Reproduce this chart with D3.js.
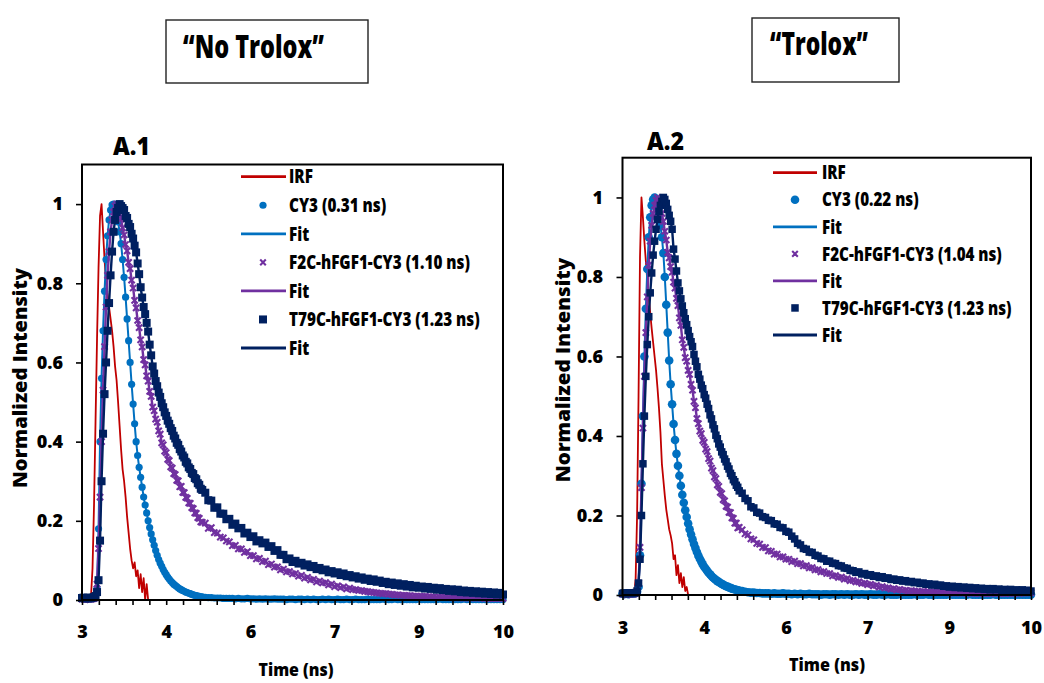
<!DOCTYPE html>
<html>
<head>
<meta charset="utf-8">
<script src="https://cdn.jsdelivr.net/npm/d3@7"></script>
<style>
  html, body { margin: 0; padding: 0; background: #fff; }
  svg { display: block; }
</style>
</head>
<body>
<svg id="fig" width="1044" height="683"></svg>
<script>
// ---------------- data ----------------
// TCSPC channel times (ns): 25 ps over the rise and fast decay, 50 ps in the tail
const timeNs = [
  3,3.025,3.05,3.075,3.1,3.125,3.15,3.175,3.2,3.225,
  3.25,3.275,3.3,3.325,3.35,3.375,3.4,3.425,3.45,3.475,
  3.5,3.525,3.55,3.575,3.6,3.625,3.65,3.675,3.7,3.725,
  3.75,3.775,3.8,3.825,3.85,3.875,3.9,3.925,3.95,3.975,
  4,4.025,4.05,4.075,4.1,4.125,4.15,4.175,4.2,4.225,
  4.25,4.275,4.3,4.325,4.35,4.375,4.4,4.425,4.45,4.475,
  4.5,4.525,4.55,4.575,4.6,4.625,4.65,4.675,4.7,4.725,
  4.75,4.775,4.8,4.825,4.85,4.875,4.9,4.925,4.95,4.975,
  5,
  5.05,5.1,5.15,5.2,5.25,5.3,5.35,5.4,5.45,5.5,
  5.55,5.6,5.65,5.7,5.75,5.8,5.85,5.9,5.95,6,
  6.05,6.1,6.15,6.2,6.25,6.3,6.35,6.4,6.45,6.5,
  6.55,6.6,6.65,6.7,6.75,6.8,6.85,6.9,6.95,7,
  7.05,7.1,7.15,7.2,7.25,7.3,7.35,7.4,7.45,7.5,
  7.55,7.6,7.65,7.7,7.75,7.8,7.85,7.9,7.95,8,
  8.05,8.1,8.15,8.2,8.25,8.3,8.35,8.4,8.45,8.5,
  8.55,8.6,8.65,8.7,8.75,8.8,8.85,8.9,8.95,9,
  9.05,9.1,9.15,9.2,9.25,9.3,9.35,9.4,9.45,9.5,
  9.55,9.6,9.65,9.7,9.75,9.8,9.85,9.9,9.95,10
];

// A.1 "No Trolox"
const irfA = [
  0,0,0,0,0,0.002,0.01,0.08,0.24,0.45,
  0.66,0.84,0.97,1.0,0.93,0.86,0.80,0.77,0.74,0.71,
  0.68,0.64,0.59,0.555,0.50,0.44,0.38,0.33,0.30,0.26,
  0.21,0.17,0.13,0.10,0.08,0.095,0.06,0.075,0.03,0.065,
  0.02,0.055,0,0.04,0
];
const cy3A = [
  0.003,0.004,0.002,0.003,0.004,0.002,0.003,0.004,0.005,0.008,
  0.03,0.18,0.40,0.56,0.68,0.78,0.86,0.92,0.96,0.985,
  0.998,1.0,0.992,0.975,0.955,0.93,0.90,0.86,0.815,0.765,
  0.71,0.655,0.60,0.545,0.495,0.445,0.40,0.365,0.335,0.31,
  0.285,0.26,0.24,0.22,0.20,0.183,0.167,0.152,0.138,0.125,
  0.113,0.102,0.093,0.085,0.077,0.07,0.064,0.058,0.053,0.048,
  0.044,0.04,0.037,0.034,0.031,0.028,0.026,0.024,0.022,0.02,
  0.019,0.017,0.016,0.014,0.013,0.012,0.011,0.01,0.009,0.008,
  0.008,
  0.007,0.006,0.006,0.005,0.005,0.005,0.004,0.004,0.004,0.004,
  0.003,0.004,0.003,0.003,0.004,0.003,0.003,0.002,0.003,0.002,
  0.003,0.002,0.002,0.003,0.002,0.002,0.002,0.001,0.002,0.002,
  0.001,0.002,0.002,0.001,0.002,0.001,0.002,0.001,0.001,0.002,
  0.001,0.002,0.001,0.001,0.002,0.001,0.001,0.002,0.001,0.001,
  0.002,0.001,0.001,0.001,0.002,0.001,0.001,0.001,0.001,0.002,
  0.001,0.001,0.001,0.002,0.001,0.001,0.001,0.001,0.001,0.001,
  0.001,0.002,0.001,0.001,0.001,0.001,0.001,0.001,0.002,0.001,
  0.001,0.001,0.001,0.001,0.001,0.001,0.002,0.001,0.001,0.001,
  0.001,0.001,0.001,0.001,0.001,0.001,0.001,0.001,0.001,0.001
];
const f2cA = [
  0.002,0.003,0.001,0.002,0.003,0.002,0.002,0.003,0.004,0.006,
  0.04,0.13,0.26,0.40,0.53,0.64,0.74,0.82,0.88,0.93,
  0.96,0.98,0.995,1.0,0.99,0.975,0.962,0.94,0.922,0.898,
  0.882,0.853,0.837,0.808,0.788,0.757,0.738,0.706,0.688,0.657,
  0.639,0.607,0.594,0.566,0.553,0.527,0.514,0.487,0.478,0.457,
  0.449,0.427,0.419,0.397,0.392,0.376,0.372,0.355,0.352,0.336,
  0.333,0.319,0.317,0.302,0.301,0.286,0.287,0.272,0.271,0.259,
  0.257,0.245,0.244,0.233,0.231,0.22,0.219,0.208,0.206,0.197,
  0.196,
  0.194,0.181,0.183,0.17,0.169,0.159,0.157,0.149,0.147,0.137,
  0.138,0.129,0.129,0.12,0.122,0.112,0.112,0.104,0.105,0.097,
  0.098,0.089,0.091,0.083,0.084,0.076,0.078,0.071,0.072,0.066,
  0.067,0.06,0.062,0.055,0.057,0.051,0.052,0.046,0.048,0.043,
  0.044,0.038,0.04,0.034,0.036,0.031,0.033,0.028,0.03,0.026,
  0.026,0.024,0.024,0.022,0.021,0.02,0.019,0.018,0.017,0.016,
  0.016,0.015,0.014,0.013,0.013,0.012,0.012,0.011,0.011,0.01,
  0.01,0.009,0.009,0.009,0.008,0.008,0.008,0.007,0.007,0.007,
  0.007,0.006,0.006,0.006,0.006,0.006,0.005,0.005,0.005,0.005,
  0.005,0.005,0.005,0.004,0.004,0.004,0.004,0.004,0.004,0.004
];
const t79cA = [
  0.005,0.006,0.004,0.005,0.006,0.004,0.005,0.006,0.007,0.01,
  0.02,0.05,0.15,0.30,0.42,0.52,0.60,0.68,0.75,0.82,
  0.88,0.93,0.96,0.98,0.99,1.0,0.995,0.99,0.985,0.97,
  0.965,0.95,0.942,0.925,0.913,0.895,0.878,0.85,0.823,0.79,
  0.764,0.74,0.722,0.70,0.678,0.645,0.618,0.59,0.572,0.553,
  0.54,0.524,0.513,0.497,0.487,0.474,0.465,0.453,0.445,0.434,
  0.427,0.415,0.408,0.397,0.392,0.381,0.375,0.365,0.36,0.349,
  0.345,0.335,0.331,0.321,0.318,0.308,0.305,0.295,0.291,0.281,
  0.278,
  0.271,0.252,0.251,0.233,0.234,0.218,0.218,0.204,0.205,0.19,
  0.193,0.181,0.182,0.168,0.17,0.159,0.161,0.148,0.151,0.143,
  0.145,0.134,0.136,0.124,0.126,0.114,0.114,0.103,0.105,0.096,
  0.099,0.092,0.094,0.087,0.09,0.083,0.086,0.078,0.081,0.075,
  0.077,0.07,0.073,0.067,0.07,0.063,0.067,0.06,0.063,0.057,
  0.06,0.054,0.057,0.051,0.054,0.048,0.052,0.046,0.049,0.043,
  0.046,0.04,0.044,0.038,0.042,0.036,0.04,0.034,0.038,0.032,
  0.036,0.031,0.034,0.029,0.033,0.028,0.031,0.026,0.03,0.025,
  0.028,0.023,0.027,0.022,0.026,0.02,0.024,0.019,0.023,0.018,
  0.022,0.017,0.021,0.016,0.02,0.015,0.019,0.014,0.018,0.014
];

// A.2 "Trolox"
const irfB = [
  0,0,0,0,0,0,0,0.002,0.005,0.04,
  0.2,0.5,0.85,1.0,0.95,0.89,0.84,0.79,0.75,0.71,
  0.67,0.635,0.6,0.565,0.52,0.47,0.41,0.33,0.29,0.25,
  0.215,0.19,0.165,0.15,0.13,0.09,0.1,0.05,0.075,0.03,
  0.055,0.02,0.045,0.01,0.02,0
];
const cy3B = [
  0.003,0.002,0.004,0.003,0.002,0.003,0.004,0.003,0.004,0.005,
  0.008,0.02,0.10,0.28,0.45,0.60,0.72,0.82,0.90,0.95,
  0.98,0.995,1.0,0.99,0.975,0.955,0.93,0.90,0.86,0.80,
  0.73,0.66,0.59,0.53,0.48,0.43,0.39,0.355,0.325,0.30,
  0.275,0.252,0.232,0.213,0.196,0.18,0.165,0.152,0.14,0.128,
  0.118,0.108,0.099,0.091,0.084,0.077,0.071,0.066,0.061,0.056,
  0.052,0.048,0.044,0.041,0.038,0.035,0.033,0.03,0.028,0.026,
  0.024,0.022,0.021,0.019,0.018,0.016,0.015,0.014,0.013,0.012,
  0.011,
  0.01,0.008,0.007,0.006,0.006,0.005,0.005,0.004,0.004,0.004,
  0.003,0.004,0.003,0.003,0.004,0.003,0.003,0.002,0.003,0.002,
  0.003,0.002,0.002,0.003,0.002,0.002,0.002,0.001,0.002,0.002,
  0.001,0.002,0.002,0.001,0.002,0.001,0.002,0.001,0.001,0.002,
  0.001,0.002,0.001,0.001,0.002,0.001,0.001,0.002,0.001,0.001,
  0.002,0.001,0.001,0.001,0.002,0.001,0.001,0.001,0.001,0.002,
  0.001,0.001,0.001,0.002,0.001,0.001,0.001,0.001,0.001,0.001,
  0.001,0.002,0.001,0.001,0.001,0.001,0.001,0.001,0.002,0.001,
  0.001,0.001,0.001,0.001,0.001,0.001,0.002,0.001,0.001,0.001,
  0.001,0.001,0.001,0.001,0.001,0.001,0.001,0.001,0.001,0.001
];
const f2cB = [
  0.002,0.003,0.002,0.001,0.003,0.002,0.003,0.002,0.003,0.004,
  0.007,0.03,0.12,0.27,0.42,0.55,0.66,0.75,0.83,0.89,
  0.93,0.96,0.98,0.993,1.0,0.995,0.98,0.96,0.94,0.915,
  0.893,0.862,0.848,0.826,0.812,0.787,0.772,0.746,0.728,0.697,
  0.678,0.642,0.623,0.597,0.588,0.565,0.555,0.53,0.515,0.487,
  0.471,0.444,0.431,0.412,0.406,0.389,0.384,0.367,0.361,0.343,
  0.337,0.319,0.313,0.297,0.293,0.277,0.273,0.258,0.255,0.24,
  0.237,0.223,0.221,0.208,0.207,0.194,0.193,0.181,0.181,0.169,
  0.17,
  0.164,0.154,0.151,0.141,0.139,0.13,0.128,0.12,0.119,0.111,
  0.11,0.103,0.103,0.096,0.096,0.09,0.09,0.084,0.085,0.079,
  0.079,0.073,0.074,0.068,0.069,0.063,0.064,0.058,0.059,0.054,
  0.054,0.048,0.049,0.044,0.045,0.04,0.041,0.036,0.037,0.033,
  0.033,0.029,0.03,0.026,0.027,0.023,0.024,0.02,0.021,0.018,
  0.018,0.015,0.016,0.013,0.014,0.012,0.012,0.01,0.011,0.01,
  0.009,0.008,0.009,0.007,0.008,0.007,0.007,0.006,0.007,0.006,
  0.006,0.005,0.006,0.005,0.005,0.005,0.005,0.004,0.005,0.005,
  0.004,0.004,0.005,0.004,0.004,0.004,0.005,0.004,0.004,0.004,
  0.004,0.005,0.004,0.004,0.005,0.004,0.005,0.005,0.005,0.006
];
const t79cB = [
  0.004,0.005,0.003,0.004,0.005,0.004,0.005,0.004,0.005,0.006,
  0.01,0.03,0.09,0.20,0.33,0.45,0.55,0.63,0.70,0.76,
  0.81,0.855,0.89,0.92,0.945,0.965,0.98,0.99,1.0,0.995,
  0.985,0.97,0.955,0.94,0.92,0.87,0.845,0.815,0.785,0.765,
  0.745,0.727,0.71,0.695,0.68,0.665,0.65,0.637,0.625,0.605,
  0.588,0.574,0.555,0.543,0.528,0.519,0.504,0.495,0.48,0.469,
  0.453,0.443,0.428,0.418,0.402,0.393,0.38,0.372,0.36,0.353,
  0.342,0.335,0.324,0.317,0.306,0.3,0.29,0.285,0.276,0.271,
  0.262,
  0.256,0.243,0.237,0.222,0.219,0.208,0.206,0.197,0.195,0.188,
  0.187,0.179,0.178,0.17,0.169,0.16,0.158,0.148,0.141,0.13,
  0.126,0.117,0.115,0.108,0.107,0.1,0.098,0.092,0.091,0.085,
  0.085,0.08,0.079,0.074,0.073,0.068,0.067,0.062,0.061,0.057,
  0.058,0.053,0.054,0.05,0.051,0.047,0.048,0.044,0.046,0.042,
  0.043,0.039,0.04,0.037,0.038,0.035,0.036,0.033,0.034,0.031,
  0.032,0.029,0.03,0.027,0.028,0.025,0.027,0.024,0.025,0.022,
  0.023,0.02,0.022,0.019,0.021,0.018,0.02,0.017,0.019,0.016,
  0.018,0.015,0.017,0.014,0.016,0.013,0.016,0.013,0.015,0.012,
  0.014,0.012,0.014,0.011,0.013,0.011,0.013,0.01,0.012,0.01
];

const legendA = ["IRF", "CY3 (0.31 ns)", "Fit", "F2C-hFGF1-CY3 (1.10 ns)", "Fit", "T79C-hFGF1-CY3 (1.23 ns)", "Fit"];
const legendB = ["IRF", "CY3 (0.22 ns)", "Fit", "F2C-hFGF1-CY3 (1.04 ns)", "Fit", "T79C-hFGF1-CY3 (1.23 ns)", "Fit"];
const panelTags = ["A.1", "A.2"];
const conditions = ["\u201CNo Trolox\u201D", "\u201CTrolox\u201D"];
const yTickValues = [0, 0.2, 0.4, 0.6, 0.8, 1];
const yTickLabels = ["0", "0.2", "0.4", "0.6", "0.8", "1"];
const xTickLabels = ["3", "4", "6", "7", "9", "10"];   // every 5th minor tick (1.4 ns apart)
const xTitle = "Time (ns)";
const yTitle = "Normalized Intensity";

// ---------------- drawing ----------------
const FONT = "'Open Sans', Lato, 'DejaVu Sans', sans-serif";
const W = 800;
const C = { irf: "#C00000", cy3: "#0070C0", f2c: "#7030A0", t79c: "#002060" };
const svg = d3.select("#fig");

// place a label and squeeze it horizontally to a given width (narrow-face look)
function label(parent, o) {
  const t = parent.append("text")
    .attr("font-family", FONT).attr("font-size", o.size).attr("font-weight", W)
    .attr("text-anchor", o.anchor || "start").attr("fill", "#000").text(o.text);
  const natural = t.node().getComputedTextLength();
  const s = o.width ? o.width / natural : (o.scale || 1);
  t.attr("transform", `translate(${o.x},${o.y})${o.rotate ? ` rotate(${o.rotate})` : ""} scale(${s},1)`);
  return t;
}

const layouts = [
  { left: 82, right: 503, top: 164.5, bottom: 600,
    xLabelY: 38, yLabelX: -19, tag: [113, 155, 37], box: [166, 20, 202, 63], cond: [183, 58, 141],
    xT: [296, 676, 75], yT: [27, 378, 220],
    lg: { x0: 241, x1: 286, mx: 263, tx: 289, y0: 176.7, dy: 28.55, w: 181 }, r: 3.6, sq: 8 },
  { left: 622.5, right: 1031, top: 157.7, bottom: 595,
    xLabelY: 39, yLabelX: -19.5, tag: [647, 150, 37], box: [752, 18, 147, 64], cond: [770, 55, 98],
    xT: [827, 670.5, 76], yT: [570, 370, 225],
    lg: { x0: 773, x1: 817, mx: 795, tx: 822, y0: 172.7, dy: 27.05, w: 180 }, r: 4.3, sq: 7.5 }
];
const seriesSets = [
  { irf: irfA, cy3: cy3A, f2c: f2cA, t79c: t79cA, legend: legendA },
  { irf: irfB, cy3: cy3B, f2c: f2cB, t79c: t79cB, legend: legendB }
];

const crossPath = a => `M${-a},${-a}L${a},${a}M${-a},${a}L${a},${-a}`;

layouts.forEach((L, k) => {
  const S = seriesSets[k];
  const x = d3.scaleLinear().domain([3, 10]).range([L.left, L.right]);
  const y = d3.scaleLinear().domain([0, 1.1]).range([L.bottom, L.top]);
  const g = svg.append("g");
  const line = d3.line().x((d, i) => x(timeNs[i])).y(d => y(d));

  // instrument response
  g.append("path").attr("d", line(S.irf)).attr("fill", "none")
    .attr("stroke", C.irf).attr("stroke-width", 1.8).attr("stroke-linejoin", "round");

  // CY3 decay + fit
  g.append("g").selectAll("circle").data(S.cy3).join("circle")
    .attr("cx", (d, i) => x(timeNs[i])).attr("cy", d => y(d)).attr("r", L.r).attr("fill", C.cy3);
  g.append("path").attr("d", line(S.cy3)).attr("fill", "none").attr("stroke", C.cy3).attr("stroke-width", 2);

  // F2C-hFGF1-CY3 decay + fit
  g.append("g").selectAll("path").data(S.f2c).join("path")
    .attr("transform", (d, i) => `translate(${x(timeNs[i])},${y(d)})`)
    .attr("d", crossPath(3.1)).attr("stroke", C.f2c).attr("stroke-width", 2.1).attr("fill", "none");
  g.append("path").attr("d", line(S.f2c)).attr("fill", "none").attr("stroke", C.f2c).attr("stroke-width", 2.4);

  // T79C-hFGF1-CY3 decay + fit
  g.append("g").selectAll("rect").data(S.t79c).join("rect")
    .attr("x", (d, i) => x(timeNs[i]) - L.sq / 2).attr("y", d => y(d) - L.sq / 2)
    .attr("width", L.sq).attr("height", L.sq).attr("fill", C.t79c);
  g.append("path").attr("d", line(S.t79c)).attr("fill", "none").attr("stroke", C.t79c).attr("stroke-width", 2.4);

  // frame
  g.append("rect").attr("x", L.left).attr("y", L.top)
    .attr("width", L.right - L.left).attr("height", L.bottom - L.top)
    .attr("fill", "none").attr("stroke", "#000").attr("stroke-width", 2);

  // x axis: minor ticks every 0.28 ns, labelled every 5th
  const minorTicks = d3.range(26).map(i => 3 + i * 0.28);
  const xa = g.append("g").attr("transform", `translate(0,${L.bottom})`)
    .call(d3.axisBottom(x).tickValues(minorTicks).tickSize(5)
      .tickFormat((d, i) => i % 5 === 0 ? xTickLabels[i / 5] : ""));
  xa.select(".domain").remove();
  xa.selectAll("line").attr("stroke", "#000").attr("stroke-width", 1.6);
  xa.selectAll("text").attr("y", L.xLabelY).attr("dy", null)
    .attr("font-family", FONT).attr("font-size", 18).attr("font-weight", W).attr("fill", "#000");

  // y axis
  const ya = g.append("g").attr("transform", `translate(${L.left},0)`)
    .call(d3.axisLeft(y).tickValues(yTickValues).tickSize(6).tickFormat((d, i) => yTickLabels[i]));
  ya.select(".domain").remove();
  ya.selectAll("line").attr("stroke", "#000").attr("stroke-width", 1.6);
  ya.selectAll("text").attr("x", L.yLabelX)
    .attr("font-family", FONT).attr("font-size", 18).attr("font-weight", W).attr("fill", "#000");

  // axis titles
  label(g, { x: L.xT[0], y: L.xT[1], anchor: "middle", size: 17, text: xTitle, width: L.xT[2] });
  label(g, { x: L.yT[0], y: L.yT[1], anchor: "middle", size: 19, text: yTitle, width: L.yT[2], rotate: -90 });

  // panel tag
  label(g, { x: L.tag[0], y: L.tag[1], size: 25, text: panelTags[k], width: L.tag[2] });

  // condition box
  g.append("rect").attr("x", L.box[0]).attr("y", L.box[1]).attr("width", L.box[2]).attr("height", L.box[3])
    .attr("fill", "#fff").attr("stroke", "#222").attr("stroke-width", 1.4);
  label(g, { x: L.cond[0], y: L.cond[1], size: 32, text: conditions[k], width: L.cond[2] });

  // legend
  const kinds = ["line", "circle", "line", "cross", "line", "square", "line"];
  const cols = [C.irf, C.cy3, C.cy3, C.f2c, C.f2c, C.t79c, C.t79c];
  const lg = g.append("g");
  S.legend.forEach((lab, i) => {
    const cy = L.lg.y0 + i * L.lg.dy;
    if (kinds[i] === "line") {
      lg.append("line").attr("x1", L.lg.x0).attr("x2", L.lg.x1).attr("y1", cy).attr("y2", cy)
        .attr("stroke", cols[i]).attr("stroke-width", 2.8);
    } else if (kinds[i] === "circle") {
      lg.append("circle").attr("cx", L.lg.mx).attr("cy", cy).attr("r", L.r).attr("fill", cols[i]);
    } else if (kinds[i] === "cross") {
      lg.append("path").attr("transform", `translate(${L.lg.mx},${cy})`).attr("d", crossPath(2.8))
        .attr("stroke", cols[i]).attr("stroke-width", 2.1);
    } else {
      lg.append("rect").attr("x", L.lg.mx - L.sq / 2).attr("y", cy - L.sq / 2)
        .attr("width", L.sq).attr("height", L.sq).attr("fill", cols[i]);
    }
  });
  // one common horizontal squeeze for all legend labels, set by the F2C entry
  const probe = lg.append("text").attr("font-family", FONT).attr("font-size", 18.5)
    .attr("font-weight", W).text(S.legend[3]);
  const squeeze = L.lg.w / probe.node().getComputedTextLength();
  probe.remove();
  S.legend.forEach((lab, i) => {
    label(lg, { x: L.lg.tx, y: L.lg.y0 + i * L.lg.dy + 6.7, size: 18.5, text: lab, scale: squeeze });
  });
});
</script>
</body>
</html>
